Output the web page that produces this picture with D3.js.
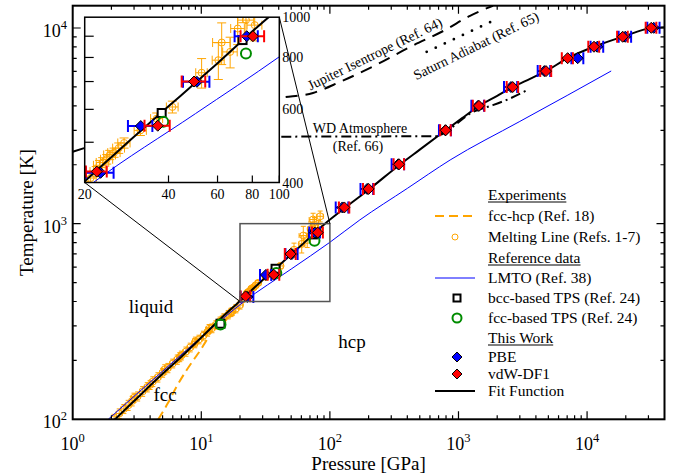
<!DOCTYPE html>
<html>
<head>
<meta charset="utf-8">
<script src="https://cdn.jsdelivr.net/npm/d3@7"></script>
<style>
  body { margin: 0; background: #fff; }
  svg { display: block; }
  text { font-family: "Liberation Serif", "Times New Roman", serif; fill: #000; }
</style>
</head>
<body>
<svg id="chart" width="681" height="475"></svg>
<script>
// ---- data (P in GPa, T in K) ----

// This work: [P, T, dP]
const vdwDF1 = [
  [22.1, 425, 1.9], [36.6, 548, 3.8], [49.4, 700, 4.8], [80.4, 900, 7.8],
  [129.5, 1210, 12], [200, 1505, 19], [345, 2010, 32], [795, 3000, 75],
  [1443, 4000, 150], [2640, 4990, 270], [4790, 6020, 470], [7060, 7010, 700],
  [11320, 8020, 1100], [18920, 9020, 1800], [31560, 10020, 3000]
];
const pbe = [
  [22.8, 422, 2.6], [31.8, 547, 3.2], [50.6, 699, 5.5], [76.4, 900, 7.3],
  [125, 1210, 14], [195, 1505, 22], [340, 2010, 38], [790, 3000, 85],
  [1420, 4000, 160], [2560, 4990, 300], [4650, 6020, 520], [8450, 7010, 900],
  [12000, 8020, 1350], [19800, 9020, 2200], [33000, 10020, 3600]
];
const fitFunction = [
  [2.0, 96], [3, 124], [5, 171], [7, 209], [10, 262], [14, 325], [20.2, 405],
  [30, 515], [40, 610], [60, 775], [91.6, 1000], [130, 1200], [200, 1490],
  [345, 1990], [500, 2390], [795, 3000], [1100, 3510], [1443, 4000], [2000, 4500],
  [2640, 4990], [3600, 5500], [4790, 6020], [7060, 7010], [11320, 8020],
  [18920, 9020], [31560, 10000], [40000, 10100]
];

// Reference data
const lmto = [
  [1.89, 100], [3, 131], [5, 176], [10, 263], [21.5, 400], [50, 586], [100, 803],
  [171, 1045], [400, 1514], [861, 2115], [3000, 3330], [7000, 4520], [15400, 6030]
];
const bccTPS = [[14.1, 308], [37.8, 588], [73.8, 881]];
const fccTPS = [[14.1, 305], [38.3, 560], [75.9, 818]];

// Experiments
const fccHcp = [[4.63, 100], [5.5, 121], [6.43, 147], [7.5, 174], [8.7, 201], [10, 229], [11.0, 254], [11.6, 266]];
// melting line: [P, T, dP, dT]
const meltingLine = [
  [2.1, 100, 0.1, 6], [2.3, 107, 0.12, 6], [2.5, 113, 0.13, 6], [2.7, 118, 0.14, 7],
  [2.9, 124, 0.15, 7], [3.0, 129, 0.15, 7], [3.2, 131, 0.16, 7], [3.5, 139, 0.18, 8],
  [3.8, 146, 0.19, 8], [4.0, 150, 0.2, 8], [4.2, 156, 0.21, 9], [4.6, 164, 0.23, 9],
  [5.0, 173, 0.25, 9], [5.2, 180, 0.26, 10], [5.5, 183, 0.28, 10], [6.0, 193, 0.3, 10],
  [6.5, 202, 0.33, 11], [6.8, 208, 0.34, 11], [7.0, 212, 0.35, 11], [7.6, 222, 0.38, 12],
  [8.2, 233, 0.41, 12], [8.9, 245, 0.45, 13], [9.0, 250, 0.45, 13], [9.6, 256, 0.5, 13],
  [10.4, 268, 0.52, 14], [11.2, 280, 0.56, 14], [11.5, 290, 0.6, 15], [12.1, 292, 0.6, 15],
  [13.0, 304, 0.65, 15], [14.0, 317, 0.7, 16], [14.5, 320, 0.72, 16], [15.0, 330, 0.75, 16],
  [16.2, 343, 0.8, 17], [17.0, 352, 0.85, 17], [17.4, 356, 0.87, 17], [18.6, 368, 0.93, 18],
  [20.0, 384, 1.0, 18], [21.0, 410, 1.0, 12], [22.0, 425, 1.1, 12], [22.6, 440, 1.1, 12],
  [23.2, 447, 1.2, 12], [24.0, 455, 1.2, 12], [24.6, 466, 1.2, 12], [25.5, 472, 1.3, 12],
  [26.5, 484, 1.3, 14], [27.7, 498, 1.4, 14], [31.7, 534, 1.6, 15], [36.3, 570, 1.8, 18],
  [41.3, 608, 2.0, 20], [52.6, 735, 2.5, 60], [60.4, 788, 3, 80], [62.1, 869, 4.5, 100],
  [66.6, 825, 4, 70], [70.9, 939, 4, 80], [75.9, 984, 5, 90], [81.6, 957, 5, 80],
  [74, 1050, 5, 80], [84, 1090, 5, 70]
];

// Planetary / stellar profiles
const jupiterIsentrope = [
  [1, 2330], [3, 2900], [10, 3500], [40.9, 4393], [73.9, 4656], [119.8, 5302],
  [236.6, 6553], [419.8, 8000], [785, 9757], [1229, 11545], [1855, 13000]
];
const saturnAdiabat = [[566, 7550], [1920, 11000]];
const wdAtmosphere = [
  [10, 2780], [676, 2800], [850, 3050], [1300, 3730], [1760, 3990], [2370, 4290], [3430, 4820]
];

// tick values
const insetXTicks = [20, 40, 60, 80, 100];
const insetYTicks = [500, 600, 700, 800, 900];
const insetYLabels = [400, 600, 800, 1000];

// colours
const ORANGE = '#ffa500', BLUE = '#0000ff', RED = '#ff0000', GREEN = '#008c00';

function drawChart() {
  const svg = d3.select('#chart');

  // main axes
  const x = d3.scaleLog().domain([1, 4e4]).range([72.7, 664.5]);
  const y = d3.scaleLog().domain([100, 13000]).range([419.3, 5.7]);
  // inset axes
  const xi = d3.scaleLog().domain([20, 100]).range([84.7, 279.3]);
  const yi = d3.scaleLog().domain([400, 1000]).range([182.5, 17.2]);

  const defs = svg.append('defs');
  defs.append('clipPath').attr('id', 'clipMain').append('rect')
    .attr('x', x.range()[0]).attr('y', y.range()[1])
    .attr('width', x.range()[1] - x.range()[0]).attr('height', y.range()[0] - y.range()[1]);
  defs.append('clipPath').attr('id', 'clipInset').append('rect')
    .attr('x', xi.range()[0]).attr('y', yi.range()[1])
    .attr('width', xi.range()[1] - xi.range()[0]).attr('height', yi.range()[0] - yi.range()[1]);

  const diamond = r => `M0,${-r}L${r},0L0,${r}L${-r},0Z`;

  // draw every series shared by the main plot and the inset
  function drawSeries(g, sx, sy, withProfiles, cap) {
    const line = d3.line().x(d => sx(d[0])).y(d => sy(d[1])).curve(d3.curveMonotoneX);

    // melting line experiments
    const mg = g.append('g').attr('stroke', ORANGE).attr('fill', 'none').attr('stroke-width', 1);
    meltingLine.forEach(d => {
      const px = sx(d[0]), py = sy(d[1]);
      const x0 = sx(d[0] - d[2]), x1 = sx(d[0] + d[2]);
      const y0 = sy(d[1] - d[3]), y1 = sy(d[1] + d[3]);
      mg.append('path').attr('d',
        `M${x0},${py}H${x1}M${x0},${py - cap}V${py + cap}M${x1},${py - cap}V${py + cap}` +
        `M${px},${y0}V${y1}M${px - cap},${y0}H${px + cap}M${px - cap},${y1}H${px + cap}`);
      mg.append('circle').attr('cx', px).attr('cy', py).attr('r', 3.5);
    });

    g.append('path').datum(fccHcp).attr('d', line).attr('fill', 'none')
      .attr('stroke', ORANGE).attr('stroke-width', 2).attr('stroke-dasharray', '9,5');

    g.append('path').datum(lmto).attr('d', line).attr('fill', 'none')
      .attr('stroke', BLUE).attr('stroke-width', 1);

    if (withProfiles) {
      g.append('path').datum(jupiterIsentrope).attr('d', line).attr('fill', 'none')
        .attr('stroke', '#000').attr('stroke-width', 2).attr('stroke-dasharray', '12,8');
      g.append('path').datum(saturnAdiabat).attr('d', line).attr('fill', 'none')
        .attr('stroke', '#000').attr('stroke-width', 2.8).attr('stroke-linecap', 'round')
        .attr('stroke-dasharray', '0,10');
      g.append('path').datum(wdAtmosphere).attr('d', line).attr('fill', 'none')
        .attr('stroke', '#000').attr('stroke-width', 2).attr('stroke-dasharray', '10,4,2,4');
    }

    g.append('path').datum(fitFunction).attr('d', line).attr('fill', 'none')
      .attr('stroke', '#000').attr('stroke-width', 2);

    g.selectAll(null).data(bccTPS).join('rect')
      .attr('x', d => sx(d[0]) - 4).attr('y', d => sy(d[1]) - 4)
      .attr('width', 8).attr('height', 8)
      .attr('fill', '#fff').attr('stroke', '#000').attr('stroke-width', 2);
    g.selectAll(null).data(fccTPS).join('circle')
      .attr('cx', d => sx(d[0])).attr('cy', d => sy(d[1])).attr('r', 5)
      .attr('fill', 'none').attr('stroke', GREEN).attr('stroke-width', 2);

    [[pbe, BLUE], [vdwDF1, RED]].forEach(([set, col]) => {
      const eg = g.append('g').attr('stroke', col).attr('stroke-width', 2).attr('fill', 'none');
      set.forEach(d => {
        const py = sy(d[1]), x0 = sx(d[0] - d[2]), x1 = sx(d[0] + d[2]);
        eg.append('path').attr('d', `M${x0},${py}H${x1}M${x0},${py - 6}V${py + 6}M${x1},${py - 6}V${py + 6}`);
      });
      g.selectAll(null).data(set).join('path')
        .attr('d', diamond(5.5))
        .attr('transform', d => `translate(${sx(d[0])},${sy(d[1])})`)
        .attr('fill', col).attr('stroke', '#000').attr('stroke-width', 1);
    });
  }

  // ---- main panel ----
  const mainG = svg.append('g').attr('clip-path', 'url(#clipMain)');
  drawSeries(mainG, x, y, true, 2.5);

  // zoom box + connectors
  svg.append('rect')
    .attr('x', x(20)).attr('y', y(1000))
    .attr('width', x(100) - x(20)).attr('height', y(400) - y(1000))
    .attr('fill', 'none').attr('stroke', '#555').attr('stroke-width', 1.5);
  svg.append('path')
    .attr('d', `M${xi(20)},${yi(400)}L${x(20)},${y(400)}M${xi(100)},${yi(1000)}L${x(100)},${y(1000)}`)
    .attr('stroke', '#000').attr('stroke-width', 1);

  // main frame and ticks
  const [L, R] = x.range(), [B, T] = y.range();
  const tickG = svg.append('g').attr('stroke', '#000').attr('stroke-width', 1.2);
  const isMajor = v => Math.abs(Math.log10(v) - Math.round(Math.log10(v))) < 1e-9;
  x.ticks().forEach(v => {
    const len = isMajor(v) ? 8 : 4, px = x(v);
    if (px > L + 0.5 && px < R - 0.5)
      tickG.append('path').attr('d', `M${px},${B}V${B - len}M${px},${T}V${T + len}`);
  });
  y.ticks().forEach(v => {
    const len = isMajor(v) ? 8 : 4, py = y(v);
    if (py < B - 0.5 && py > T + 0.5)
      tickG.append('path').attr('d', `M${L},${py}H${L + len}M${R},${py}H${R - len}`);
  });
  svg.append('rect').attr('x', L).attr('y', T).attr('width', R - L).attr('height', B - T)
    .attr('fill', 'none').attr('stroke', '#000').attr('stroke-width', 2);

  function powLabel(px, py, exp, anchor) {
    const t = svg.append('text').attr('x', px).attr('y', py)
      .attr('font-size', 18).attr('text-anchor', anchor);
    t.append('tspan').text('10');
    t.append('tspan').attr('dy', -8).attr('font-size', 12.5).text(exp);
  }
  x.ticks().filter(isMajor).forEach(v => powLabel(x(v), 450, Math.round(Math.log10(v)), 'middle'));
  y.ticks().filter(isMajor).forEach(v => powLabel(67, y(v) + 9, Math.round(Math.log10(v)), 'end'));

  svg.append('text').attr('x', (L + R) / 2).attr('y', 470).attr('text-anchor', 'middle')
    .attr('font-size', 19).text('Pressure [GPa]');
  svg.append('text').attr('transform', `translate(33,${(B + T) / 2}) rotate(-90)`)
    .attr('text-anchor', 'middle').attr('font-size', 19).text('Temperature [K]');

  // phase labels and profile names
  const note = (px, py, s, size, rot) => svg.append('text')
    .attr('transform', `translate(${px},${py}) rotate(${rot || 0})`)
    .attr('text-anchor', 'middle').attr('font-size', size).text(s);
  note(151, 313, 'liquid', 19);
  note(165, 401, 'fcc', 19);
  note(352, 348, 'hcp', 19);
  note(360, 133, 'WD Atmosphere', 14);
  note(358, 151, '(Ref. 66)', 14);
  note(377, 58, 'Jupiter Isentrope (Ref. 64)', 14, -26);
  note(478, 50, 'Saturn Adiabat (Ref. 65)', 14, -26);

  // ---- inset ----
  const [iL, iR] = xi.range(), [iB, iT] = yi.range();
  svg.append('rect').attr('x', iL).attr('y', iT).attr('width', iR - iL).attr('height', iB - iT)
    .attr('fill', '#fff');
  const insetG = svg.append('g').attr('clip-path', 'url(#clipInset)');
  drawSeries(insetG, xi, yi, false, 4.5);
  const itG = svg.append('g').attr('stroke', '#000').attr('stroke-width', 1.2);
  insetYTicks.forEach(v => itG.append('path').attr('d', `M${iL},${yi(v)}H${iL + 9}`));
  insetXTicks.forEach(v => itG.append('path').attr('d', `M${xi(v)},${iB}V${iB - 7}`));
  svg.append('rect').attr('x', iL).attr('y', iT).attr('width', iR - iL).attr('height', iB - iT)
    .attr('fill', 'none').attr('stroke', '#000').attr('stroke-width', 1.5);
  insetXTicks.forEach(v => svg.append('text').attr('x', xi(v)).attr('y', iB + 16)
    .attr('text-anchor', 'middle').attr('font-size', 14).text(v));
  insetYLabels.forEach(v => svg.append('text').attr('x', iR + 3).attr('y', yi(v) + 5)
    .attr('font-size', 14).text(v));

  // ---- legend ----
  const lg = svg.append('g');
  const tx = 488, sxm = 457, fs = 15.5;
  const header = (yy, s) => {
    const t = lg.append('text').attr('x', tx).attr('y', yy + 5).attr('font-size', fs).text(s);
    const w = t.node().getComputedTextLength();
    lg.append('line').attr('x1', tx).attr('x2', tx + w).attr('y1', yy + 7).attr('y2', yy + 7)
      .attr('stroke', '#000').attr('stroke-width', 1);
  };
  const entry = (yy, s) => lg.append('text').attr('x', tx).attr('y', yy + 5).attr('font-size', fs).text(s);

  header(195, 'Experiments');
  lg.append('line').attr('x1', 435).attr('x2', 473).attr('y1', 216).attr('y2', 216)
    .attr('stroke', ORANGE).attr('stroke-width', 2).attr('stroke-dasharray', '9,5');
  entry(216, 'fcc-hcp (Ref. 18)');
  lg.append('circle').attr('cx', 455).attr('cy', 237).attr('r', 3)
    .attr('fill', 'none').attr('stroke', ORANGE);
  entry(237, 'Melting Line (Refs. 1-7)');
  header(258, 'Reference data');
  lg.append('line').attr('x1', 435).attr('x2', 475).attr('y1', 278).attr('y2', 278)
    .attr('stroke', BLUE).attr('stroke-width', 1);
  entry(278, 'LMTO (Ref. 38)');
  lg.append('rect').attr('x', sxm - 3.5).attr('y', 298 - 3.5).attr('width', 7).attr('height', 7)
    .attr('fill', '#fff').attr('stroke', '#000').attr('stroke-width', 2);
  entry(298, 'bcc-based TPS (Ref. 24)');
  lg.append('circle').attr('cx', sxm).attr('cy', 318).attr('r', 4.5)
    .attr('fill', 'none').attr('stroke', GREEN).attr('stroke-width', 2);
  entry(318, 'fcc-based TPS (Ref. 24)');
  header(338, 'This Work');
  lg.append('path').attr('d', diamond(5)).attr('transform', `translate(${sxm},357)`)
    .attr('fill', BLUE).attr('stroke', '#000');
  entry(357, 'PBE');
  lg.append('path').attr('d', diamond(5)).attr('transform', `translate(${sxm},374)`)
    .attr('fill', RED).attr('stroke', '#000');
  entry(374, 'vdW-DF1');
  lg.append('line').attr('x1', 435).attr('x2', 475).attr('y1', 391).attr('y2', 391)
    .attr('stroke', '#000').attr('stroke-width', 2);
  entry(391, 'Fit Function');
}

drawChart();
</script>
</body>
</html>
